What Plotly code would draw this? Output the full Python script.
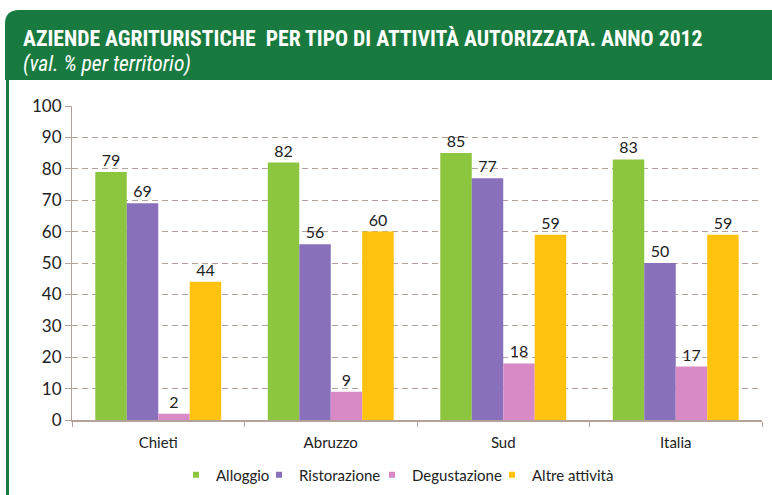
import plotly.graph_objects as go

categories = ["Chieti", "Abruzzo", "Sud", "Italia"]
series_names = ["Alloggio", "Ristorazione", "Degustazione", "Altre attività"]
alloggio = [79, 82, 85, 83]
ristorazione = [69, 56, 77, 50]
degustazione = [2, 9, 18, 17]
altre = [44, 60, 59, 59]
y_ticks = list(range(0, 101, 10))

colors = ["#8cc63e", "#8870bb", "#d98ac6", "#ffc20e"]
values = [alloggio, ristorazione, degustazione, altre]
legend_widths = [38, 68, 75, 80]

W, H = 772, 495
L, R, T, B = 72, 10, 106, 75
pw, ph = W - L - R, H - T - B

def px(x):
    return (x - L) / pw

def py(y):
    return (H - B - y) / ph

TFONT = "Liberation Sans Narrow, Roboto Condensed, Arial Narrow, sans-serif"
FONT = "Lato, Open Sans, sans-serif"

fig = go.Figure()
for name, vals, c in zip(series_names, values, colors):
    fig.add_trace(go.Bar(
        x=categories, y=vals, name=name, marker=dict(color=c, line=dict(width=0)),
        text=[str(v) for v in vals], textposition="outside",
        textfont=dict(size=16, color="#222222", family=FONT),
        cliponaxis=False, showlegend=False,
    ))
for name, c, lw in zip(series_names, colors, legend_widths):
    fig.add_trace(go.Scatter(
        x=[None], y=[None], mode="markers", name=name,
        marker=dict(symbol="square", size=6, color=c), showlegend=True,
        legendwidth=lw,
    ))

green = "#187a3f"
x0, x1 = px(5), px(780)
y0, y1 = py(80), py(10)
rx, ry = 14 / pw, 14 / ph
path = (f"M {x0} {y0} L {x0} {y1 - ry} Q {x0} {y1} {x0 + rx} {y1} "
        f"L {x1} {y1} L {x1} {y0} Z")

shapes = [
    dict(type="path", xref="paper", yref="paper", path=path,
         fillcolor=green, line=dict(width=0), layer="below"),
    dict(type="rect", xref="paper", yref="paper", x0=px(6), x1=px(9),
         y0=py(500), y1=py(80), fillcolor=green, line=dict(width=0), layer="below"),
]

annotations = [
    dict(xref="paper", yref="paper", x=px(21), y=py(39), xanchor="left", yanchor="middle",
         text="<b>AZIENDE AGRITURISTICHE  PER TIPO DI ATTIVITÀ AUTORIZZATA. ANNO 2012</b>",
         showarrow=False, font=dict(size=21.7, color="white", family=TFONT)),
    dict(xref="paper", yref="paper", x=px(21), y=py(64), xanchor="left", yanchor="middle",
         text="<i>(val. % per territorio)</i>",
         showarrow=False, font=dict(size=21.5, color="white", family=TFONT)),
]

gridc = "#b3a39b"
fig.update_layout(
    width=W, height=H,
    margin=dict(l=L, r=R, t=T, b=B, pad=0, autoexpand=False),
    paper_bgcolor="white", plot_bgcolor="white",
    barmode="group", bargap=0.27, bargroupgap=0,
    shapes=shapes, annotations=annotations,
    font=dict(family=FONT, color="#222222"),
    legend=dict(orientation="h", x=px(176), xanchor="left", y=py(475), yanchor="middle",
                font=dict(size=15, family=FONT, color="#222222"),
                itemwidth=30, tracegroupgap=0, bgcolor="rgba(0,0,0,0)"),
    showlegend=True,
)
fig.update_yaxes(range=[0, 100], tickvals=y_ticks, showgrid=True, gridcolor=gridc,
                 griddash="6px,4px", gridwidth=1, showline=True, linecolor=gridc, linewidth=1,
                 ticks="outside", ticklen=6, tickcolor=gridc,
                 tickfont=dict(size=17, color="#222222", family=FONT), zeroline=False)
fig.update_xaxes(showline=True, linecolor=gridc, linewidth=1.5, ticks="outside",
                 tickson="boundaries", ticklen=5, tickcolor=gridc, ticklabelstandoff=8,
                 tickfont=dict(size=15, color="#222222", family=FONT))

fig.write_html("out.html", config={"displayModeBar": False},
               post_script="document.body.style.margin='0';document.body.style.overflow='hidden';")
